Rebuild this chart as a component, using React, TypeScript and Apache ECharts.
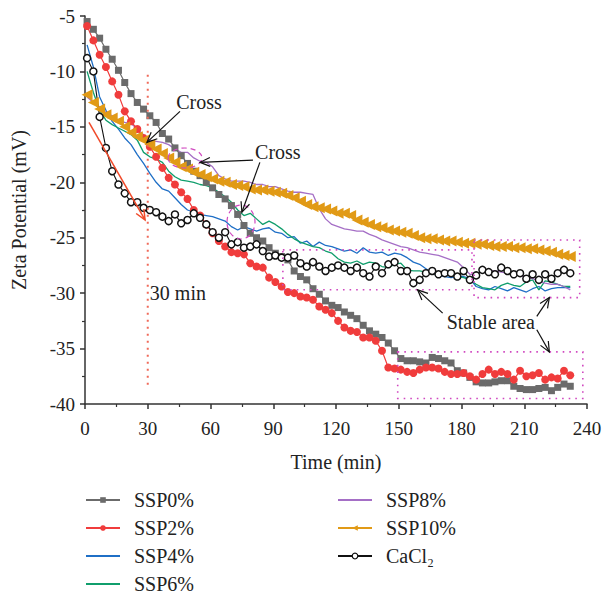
import React, { useEffect, useRef } from 'react';
import * as echarts from 'echarts';

const TIME = [1, 4, 7, 10, 13, 16, 19, 22, 25, 28, 31, 34, 37, 40, 43, 46, 49, 52, 55, 58, 61, 64, 67, 70, 73, 76, 79, 82, 85, 88, 91, 94, 97, 100, 103, 106, 109, 112, 115, 118, 121, 124, 127, 130, 133, 136, 139, 142, 145, 148, 151, 154, 157, 160, 163, 166, 169, 172, 175, 178, 181, 184, 187, 190, 193, 196, 199, 202, 205, 208, 211, 214, 217, 220, 223, 226, 229, 232];

const SSP0 = [-5.5, -6.2, -7.0, -8.0, -8.9, -9.9, -11.0, -12.0, -12.8, -13.4,
  -14.0, -14.6, -15.6, -16.1, -16.9, -17.6, -18.3, -19.0, -19.4, -20.0,
  -20.5, -21.1, -21.5, -22.1, -22.9, -23.9, -24.6, -25.0, -25.3, -25.9,
  -26.4, -26.7, -27.0, -28.0, -28.5, -28.8, -29.6, -30.1, -30.7, -31.1,
  -31.3, -31.7, -32.0, -32.3, -32.9, -33.4, -33.7, -34.0, -34.5, -35.2,
  -35.9, -36.1, -36.1, -36.2, -36.3, -35.8, -35.9, -36.1, -36.3, -37.0,
  -37.2, -37.6, -38.0, -38.1, -38.1, -38.0, -37.9, -37.9, -38.4, -38.6,
  -38.7, -38.7, -38.6, -38.5, -38.8, -38.5, -38.2, -38.4];

const SSP2 = [-5.9, -7.2, -8.5, -9.6, -10.9, -12.1, -13.6, -14.5, -15.2, -16.0,
  -16.8, -17.7, -18.7, -19.6, -20.2, -20.9, -21.5, -22.5, -23.0, -23.8,
  -24.6, -25.3, -25.8, -26.3, -26.4, -26.5, -27.3, -27.6, -27.7, -28.6,
  -29.0, -29.4, -29.9, -30.0, -30.3, -30.4, -30.6, -31.2, -31.5, -31.8,
  -32.5, -33.1, -33.4, -33.5, -34.0, -34.0, -34.3, -35.2, -36.7, -36.8,
  -36.9, -37.1, -37.2, -36.9, -36.7, -36.7, -36.8, -37.1, -37.3, -37.3,
  -37.2, -37.5, -37.8, -37.3, -36.9, -37.3, -37.1, -37.3, -37.8, -37.0,
  -37.5, -37.4, -37.2, -37.8, -37.6, -37.7, -37.0, -37.4];

const SSP4 = [-7.6, -9.6, -12.3, -13.5, -14.5, -15.2, -16.0, -16.6, -17.5, -18.3,
  -19.2, -20.0, -20.6, -20.8, -21.4, -22.0, -22.5, -22.7, -22.9, -23.0,
  -23.1, -23.3, -23.5, -24.0, -24.3, -24.0, -24.2, -24.4, -24.2, -24.1,
  -24.5, -24.6, -25.0, -24.9, -25.5, -25.3, -25.8, -25.4, -25.7, -25.8,
  -26.0, -26.2, -26.1, -26.4, -25.9, -26.3, -26.4, -26.3, -26.6, -26.4,
  -26.5, -26.8, -27.2, -27.4, -27.8, -28.2, -28.4, -28.5, -28.6, -28.5,
  -28.5, -28.7, -29.4, -29.6, -29.7, -29.4, -29.6, -29.8, -29.5, -29.7,
  -29.9, -29.6, -29.4, -29.8, -29.6, -29.5, -29.5, -29.5];

const SSP6 = [-10.0, -11.9, -13.5, -14.4, -14.8, -15.1, -15.4, -15.7, -16.2, -17.3,
  -17.7, -17.9, -18.2, -19.0, -19.5, -19.8, -19.9, -20.0, -20.2, -20.3,
  -20.5, -20.9, -21.3, -21.8, -22.5, -23.0, -22.8, -23.3, -23.8, -23.5,
  -23.8, -24.2, -24.7, -25.1, -25.4, -25.6, -25.8, -25.9, -26.2, -26.4,
  -26.9, -27.2, -27.3, -27.1, -27.4, -27.2, -27.3, -27.6, -27.7, -27.4,
  -27.3, -27.9, -28.0, -28.0, -28.1, -28.2, -28.3, -28.3, -28.4, -28.5,
  -28.6, -28.8, -29.2, -29.5, -29.6, -29.7, -29.3, -29.1, -29.3, -29.4,
  -29.0, -28.8, -29.7, -28.9, -29.0, -29.2, -29.4, -29.4];

const SSP8 = [-12.3, -12.8, -13.2, -13.7, -14.0, -14.4, -14.6, -14.7, -15.2, -15.7,
  -16.2, -16.3, -16.4, -16.6, -17.0, -17.3, -17.3, -17.8, -18.1, -18.2,
  -18.6, -19.4, -19.7, -19.9, -19.9, -19.9, -20.0, -20.2, -20.2, -20.4,
  -20.4, -20.6, -20.8, -20.9, -20.9, -21.0, -21.1, -22.4, -23.3, -23.8,
  -24.0, -24.2, -24.3, -24.4, -24.4, -24.7, -24.9, -25.2, -25.4, -25.6,
  -25.8, -25.9, -26.1, -26.3, -26.4, -26.5, -26.6, -26.8, -27.0, -27.2,
  -27.7, -28.3, -28.3, -28.0, -28.0, -28.0, -28.1, -28.2, -28.2, -28.4,
  -28.6, -28.7, -28.9, -29.1, -29.2, -29.2, -29.4, -29.7];

const SSP10 = [-12.1, -12.8, -13.4, -13.9, -14.2, -14.5, -15.0, -15.5, -15.9, -16.2,
  -16.6, -17.0, -17.4, -17.8, -18.2, -18.6, -18.8, -19.1, -19.3, -19.5,
  -19.7, -19.9, -20.0, -20.2, -20.3, -20.4, -20.6, -20.7, -20.7, -20.8,
  -20.9, -21.0, -21.2, -21.4, -21.7, -22.0, -22.2, -22.3, -22.4, -22.6,
  -22.8, -22.8, -23.0, -23.4, -23.6, -23.8, -24.0, -24.1, -24.3, -24.4,
  -24.5, -24.6, -24.8, -25.0, -25.1, -25.1, -25.2, -25.3, -25.3, -25.4,
  -25.5, -25.5, -25.6, -25.6, -25.7, -25.8, -25.8, -25.8, -25.9, -25.9,
  -26.0, -26.0, -26.1, -26.2, -26.3, -26.5, -26.6, -26.7];

const CACL2 = [-8.8, -10.0, -14.1, -16.9, -19.0, -20.2, -21.0, -21.8, -21.8, -22.3,
  -22.5, -22.7, -23.1, -23.5, -22.9, -23.7, -23.4, -22.8, -23.2, -23.8,
  -24.5, -25.0, -24.5, -25.6, -25.4, -25.9, -25.8, -25.6, -26.2, -26.7,
  -26.6, -26.8, -26.8, -26.6, -27.3, -27.6, -27.2, -27.6, -28.0, -27.7,
  -27.5, -27.7, -28.0, -27.7, -28.2, -28.5, -27.6, -28.2, -27.4, -27.2,
  -28.0, -28.0, -29.1, -28.8, -28.2, -28.0, -28.3, -28.2, -28.2, -28.5,
  -28.0, -28.8, -28.4, -27.9, -28.1, -28.3, -27.7, -28.0, -28.3, -28.2,
  -28.7, -28.3, -28.8, -28.3, -28.7, -28.2, -27.9, -28.2];

const NAMES = ['SSP0%', 'SSP2%', 'SSP4%', 'SSP6%', 'SSP8%', 'SSP10%', 'CaCl₂'];
const LINE_ONLY = ['SSP4%', 'SSP6%', 'SSP8%'];

// annotation anchors in data units [time, mV]
const CROSS1_TEXT = [54.5, -12.8];
const CROSS1_ARROW = [[45.4, -13.6], [29.6, -16.4]];
const CROSS2_TEXT = [92.2, -17.3];
const CROSS2_ARROWS = [[[80.3, -18.0], [55, -18.2]], [[83.6, -18.2], [75, -22.7]]];
const STABLE_TEXT = [194, -32.6];
const STABLE_ARROWS = [[[171, -31.8], [159, -29.7]], [[216, -32.1], [222, -30.4]], [[216, -33.3], [222, -35.3]]];
const STABLE_BOXES = [[[94.6, -26.1], [185, -29.7]], [[186, -25.2], [236.5, -30.4]], [[149.5, -35.3], [238, -39.5]]];
const MIN30_TEXT = [31, -30];
const MIN30_LINE = [[30, -10.3], [30, -38.4]];
const RED_ARROW = [[1.9, -14.6], [28.7, -23.4]];
const ELLIPSES = [[[185, 158], [17, 10]], [[241, 222], [14, 17]]];

const FONT = '"Liberation Serif", "DejaVu Serif", "Times New Roman", serif';

export default function App() {
  const ref = useRef<HTMLDivElement>(null);
  useEffect(() => {
    document.body.style.margin = '0';
    const chart = echarts.init(ref.current!, undefined, { renderer: 'svg' });
    const pair = (ys: number[]) => TIME.map((t, i) => [t, ys[i]]);
    const base = { type: 'line', lineStyle: { width: 1.2 }, emphasis: { disabled: true } };
    const series: any[] = [
      { ...base, name: NAMES[2], data: pair(SSP4), color: '#1f6fc6', symbol: 'none', lineStyle: { width: 1.3 } },
      { ...base, name: NAMES[3], data: pair(SSP6), color: '#109e6c', symbol: 'none', lineStyle: { width: 1.3 } },
      { ...base, name: NAMES[4], data: pair(SSP8), color: '#a56fc6', symbol: 'none', lineStyle: { width: 1.3 } },
      { ...base, name: NAMES[0], data: pair(SSP0), color: '#6b6b6b', symbol: 'rect', symbolSize: 7 },
      { ...base, name: NAMES[1], data: pair(SSP2), color: '#f03c3c', symbol: 'circle', symbolSize: 8 },
      { ...base, name: NAMES[5], data: pair(SSP10), color: '#e19a16', symbol: 'triangle', symbolRotate: 90, symbolSize: 11 },
      { ...base, name: NAMES[6], data: pair(CACL2), color: '#111', symbol: 'circle', symbolSize: 7,
        itemStyle: { color: '#fff', borderColor: '#111', borderWidth: 1.5 }, lineStyle: { width: 1.1, color: '#111' } },
    ];
    const legendData = (names: string[]) => names.map((n) => {
      if (LINE_ONLY.includes(n)) return { name: n, itemStyle: { opacity: 0 } };
      if (n === 'CaCl₂') return { name: n, itemStyle: { borderWidth: 1.2 } };
      if (n === 'SSP10%') return { name: n, itemStyle: {} };
      return { name: n };
    });
    const legendBase = {
      orient: 'vertical', top: 490, height: 110, padding: 0, itemWidth: 34, itemHeight: 7, itemGap: 8,
      textStyle: { fontFamily: FONT, fontSize: 20, color: '#222', padding: [0, 0, 0, 9] },
      selectedMode: false,
    };
    chart.setOption({
      animation: false,
      backgroundColor: '#fff',
      grid: { left: 85, top: 16, width: 502, height: 388, containLabel: false },
      legend: [
        { ...legendBase, left: 85, data: legendData(NAMES.slice(0, 4)) },
        { ...legendBase, left: 337, data: legendData(NAMES.slice(4)) },
      ],
      xAxis: {
        type: 'value', min: 0, max: 240, interval: 30,
        name: 'Time (min)', nameLocation: 'middle', nameGap: 48,
        nameTextStyle: { fontFamily: FONT, fontSize: 20, color: '#222' },
        axisLine: { lineStyle: { color: '#333', width: 1.5 } },
        axisTick: { length: 5, lineStyle: { color: '#333', width: 1.5 } },
        minorTick: { show: true, splitNumber: 2, length: 3, lineStyle: { color: '#333', width: 1.2 } },
        axisLabel: { fontFamily: FONT, fontSize: 19, color: '#222', margin: 15 },
        splitLine: { show: false },
      },
      yAxis: {
        type: 'value', min: -40, max: -5, interval: 5,
        name: 'Zeta Potential (mV)', nameLocation: 'middle', nameGap: 56,
        nameTextStyle: { fontFamily: FONT, fontSize: 20, color: '#222' },
        axisLine: { show: true, lineStyle: { color: '#333', width: 1.5 } },
        axisTick: { show: true, length: 5, lineStyle: { color: '#333', width: 1.5 } },
        minorTick: { show: true, splitNumber: 2, length: 3, lineStyle: { color: '#333', width: 1.2 } },
        axisLabel: { fontFamily: FONT, fontSize: 19, color: '#222', margin: 10 },
        splitLine: { show: false },
      },
      series,
    });

    const px = (p: number[]) => chart.convertToPixel({ gridIndex: 0 }, p) as number[];
    const g: any[] = [];
    const arrow = (a: number[], b: number[], color: string, width: number) => {
      const p1 = px(a), p2 = px(b);
      const ang = Math.atan2(p2[1] - p1[1], p2[0] - p1[0]);
      const L = 11, s = 0.42;
      const h1 = [p2[0] - L * Math.cos(ang - s), p2[1] - L * Math.sin(ang - s)];
      const h2 = [p2[0] - L * Math.cos(ang + s), p2[1] - L * Math.sin(ang + s)];
      g.push({ type: 'line', z: 100, shape: { x1: p1[0], y1: p1[1], x2: p2[0], y2: p2[1] }, style: { stroke: color, lineWidth: width } });
      g.push({ type: 'polyline', z: 100, shape: { points: [h1, p2, h2] }, style: { stroke: color, lineWidth: width, fill: 'none' } });
    };
    const text = (p: number[], t: string, align: string) => {
      const q = px(p);
      g.push({ type: 'text', z: 100, x: q[0], y: q[1], style: { text: t, font: `20px ${FONT}`, fill: '#222', textAlign: align, textVerticalAlign: 'middle', align, verticalAlign: 'middle' } });
    };
    STABLE_BOXES.forEach(([a, b]) => {
      const p1 = px(a), p2 = px(b);
      g.push({ type: 'rect', z: 90, shape: { x: p1[0], y: p1[1], width: p2[0] - p1[0], height: p2[1] - p1[1] }, style: { fill: 'none', stroke: '#d048c0', lineWidth: 1.6, lineDash: [1.6, 5] } });
    });
    {
      const p1 = px(MIN30_LINE[0]), p2 = px(MIN30_LINE[1]);
      g.push({ type: 'line', z: 90, shape: { x1: p1[0], y1: p1[1], x2: p2[0], y2: p2[1] }, style: { stroke: '#f06a5a', lineWidth: 2, lineDash: [2, 5] } });
    }
    ELLIPSES.forEach(([c, r]) => {
      g.push({ type: 'ellipse', z: 95, shape: { cx: c[0], cy: c[1], rx: r[0], ry: r[1] }, style: { fill: 'none', stroke: '#d048c0', lineWidth: 1.2, lineDash: [5, 4] } });
    });
    arrow(RED_ARROW[0], RED_ARROW[1], '#f04a2a', 1.5);
    arrow(CROSS1_ARROW[0], CROSS1_ARROW[1], '#111', 1.2);
    CROSS2_ARROWS.forEach(([a, b]) => arrow(a, b, '#111', 1.2));
    STABLE_ARROWS.forEach(([a, b]) => arrow(a, b, '#111', 1.2));
    text(CROSS1_TEXT, 'Cross', 'center');
    text(CROSS2_TEXT, 'Cross', 'center');
    text(STABLE_TEXT, 'Stable area', 'center');
    text(MIN30_TEXT, '30 min', 'left');
    chart.setOption({ graphic: g });
    return () => chart.dispose();
  }, []);
  return <div ref={ref} style={{ position: 'fixed', left: 0, top: 0, width: 605, height: 595 }} />;
}
